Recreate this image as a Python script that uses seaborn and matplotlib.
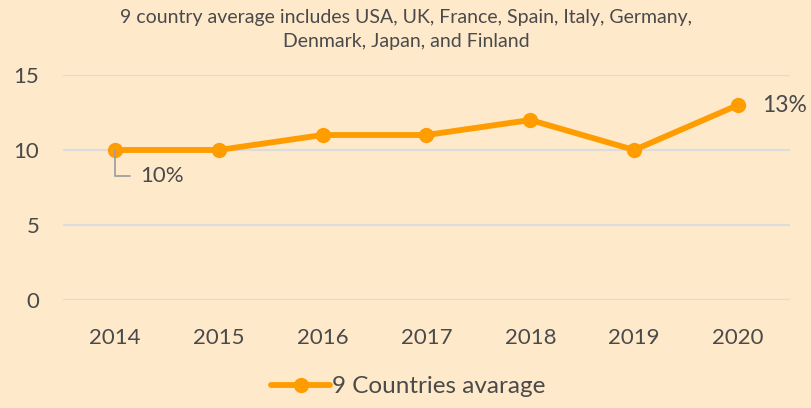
import matplotlib
matplotlib.use("Agg")
import matplotlib.pyplot as plt
import seaborn as sns
import pandas as pd

years = ["2014", "2015", "2016", "2017", "2018", "2019", "2020"]
average = [10, 10, 11, 11, 12, 10, 13]
series_name = "9 Countries avarage"
title = "9 country average includes USA, UK, France, Spain, Italy, Germany,\nDenmark, Japan, and Finland"
y_ticks = [0, 5, 10, 15]

bg = "#FFE9CB"
orange = "#FF9C00"
text_col = "#4a4a4a"

sns.set_theme(style="white")
plt.rcParams["font.family"] = ["Lato", "DejaVu Sans"]

df = pd.DataFrame({"year": years, "value": average, "series": series_name})

fig = plt.figure(figsize=(8.12, 4.08), dpi=100, facecolor=bg)
ax = fig.add_axes([63 / 812, 108 / 408, 727 / 812, 225 / 408])
ax.set_facecolor(bg)

sns.lineplot(data=df, x="year", y="value", hue="series", palette=[orange],
             marker="o", markersize=11, markeredgewidth=0, linewidth=4.2,
             sort=False, ax=ax, clip_on=False)

ax.set_xlim(-0.5, len(years) - 0.5)
ax.set_ylim(0, 15)
ax.set_yticks(y_ticks)
ax.yaxis.grid(True, color="#DCDCDC", linewidth=1.6)
ax.set_axisbelow(True)
for s in ax.spines.values():
    s.set_visible(False)
ax.tick_params(axis="both", length=0, labelsize=16, labelcolor=text_col)
ax.tick_params(axis="y", pad=17)
ax.tick_params(axis="x", pad=20)
ax.set_xlabel("")
ax.set_ylabel("")

# value labels at first and last point
ax.annotate(f"{average[0]}%", xy=(0, average[0]), xytext=(18, -19),
            textcoords="offset points", fontsize=16, color=text_col,
            va="center", ha="left",
            arrowprops=dict(arrowstyle="-", color="#A0A0A0", lw=1.3,
                            connectionstyle="angle,angleA=0,angleB=90,rad=0",
                            shrinkA=5, shrinkB=0))
ax.annotate(f"{average[-1]}%", xy=(len(years) - 1, average[-1]), xytext=(17, 0),
            textcoords="offset points", fontsize=16.5, color=text_col,
            va="center", ha="left")

fig.text(0.5, 0.978, title, ha="center", va="top", fontsize=14,
         color=text_col, linespacing=1.5)

leg = ax.legend(loc="lower center", bbox_to_anchor=(0.5 - 18 / 727, -0.475),
                frameon=False, fontsize=17.5, handlelength=2.4,
                handletextpad=0.1, borderaxespad=0)
for t in leg.get_texts():
    t.set_color(text_col)

fig.savefig("out.png", dpi=100, facecolor=bg)
